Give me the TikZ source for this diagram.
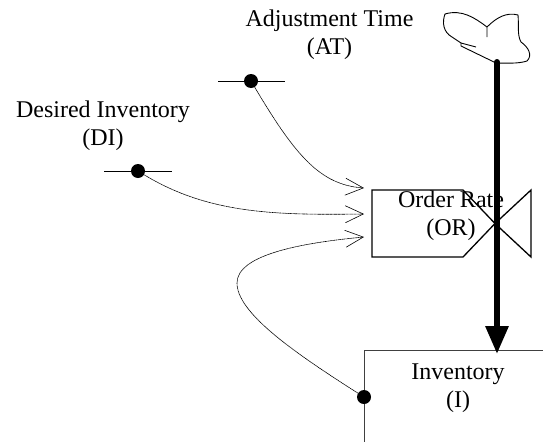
\documentclass[tikz,border=0pt]{standalone}
\usepackage{fontspec}
\setmainfont{Liberation Serif}
\usetikzlibrary{arrows.meta}
\begin{document}
\begin{tikzpicture}[x=1pt,y=-1pt,
  lbl/.style={font=\fontsize{24}{27.6}\selectfont, align=center, inner sep=0pt},
  src/.style={circle, fill=black, minimum size=14pt, inner sep=0pt},
  stub/.style={line width=0.9pt},
  infl/.style={line width=0.6pt, dash pattern=on 1.2pt off 0.4pt,
    -{Straight Barb[length=18pt,width=17pt,line width=0.6pt]}},
  valveline/.style={line width=1.3pt, line join=miter},
  flow/.style={line width=6pt, line cap=round,
    -{Triangle[length=28pt,width=22pt]}}]
\useasboundingbox (0,0) rectangle (543,442);

% labels
\node[lbl] (atl) at (329.5,35) {Adjustment Time\\(AT)};
\node[lbl] (dil) at (103,126) {Desired Inventory\\(DI)};

% auxiliary sources
\coordinate (ata) at (218,81);
\coordinate (atb) at (285,81);
\draw[stub] (ata) -- (atb);
\node[src] (at) at (251,81) {};
\coordinate (dia) at (104,171);
\coordinate (dib) at (172,171);
\draw[stub] (dia) -- (dib);
\node[src] (di) at (138,171) {};

% cloud (source of the flow)
\coordinate (cl) at (497,62);
\draw[line width=0.9pt] (487,37) -- (487,27)
  .. controls (497,17) and (507,12) .. (518,15)
  .. controls (519,25) and (517,35) .. (521,42)
  .. controls (528,47) and (533,55) .. (527,61)
  .. controls (518,64) and (505,63) .. (496,63)
  -- (461,46) -- (461,43) -- (476,47);
\draw[line width=0.9pt] (487,27)
  .. controls (475,18) and (462,9) .. (445,14)
  .. controls (442,22) and (443,32) .. (452,37) -- (461,43);

% order rate valve
\draw[valveline] (372,190) -- (463,190) -- (495,223.5) -- (463,257) -- (372,257) -- cycle;
\draw[valveline] (495,223.5) -- (531,190) -- (531,257) -- cycle;
\node[lbl] (orl) at (451,216) {Order Rate\\(OR)};

% inventory stock
\coordinate (inv) at (364,350);
\draw[line width=0.9pt, black!75] (543,350) -- (inv) -- (364,442);
\node[lbl] (invl) at (458,388) {Inventory\\(I)};
\node[src] (ii) at (364,397) {};

% main flow
\coordinate (flowend) at (497,354);
\draw[flow] (cl) -- (flowend);

% information links into the rate
\coordinate (in1) at (364,188);
\coordinate (in2) at (364,214);
\coordinate (in3) at (364,237);
\draw[infl] (at) .. controls (295,155) and (320,185) .. (in1);
\draw[infl] (di) .. controls (210,215) and (280,215) .. (in2);
\draw[infl] (ii) .. controls (290,350) and (237,312) .. (237,283)
  .. controls (237,255) and (300,243) .. (in3);
\end{tikzpicture}
\end{document}
